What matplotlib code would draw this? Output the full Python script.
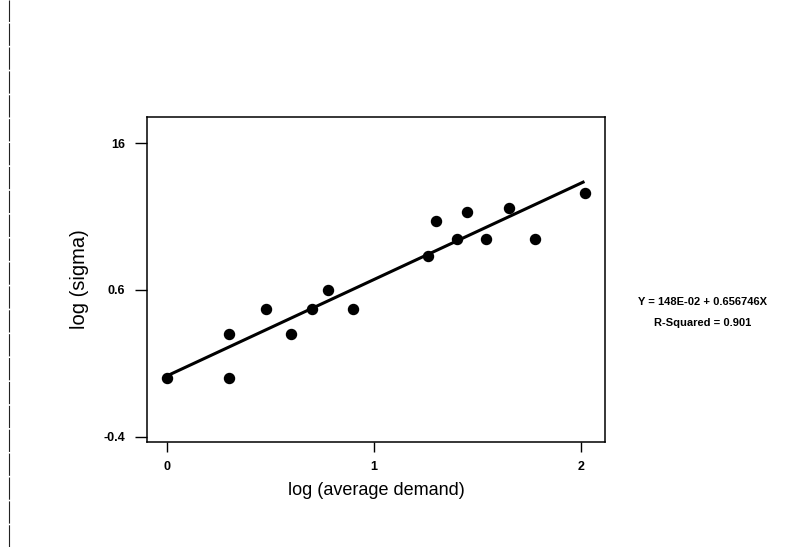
import numpy as np
from matplotlib import pyplot as plt
from matplotlib.lines import Line2D

# Data.
log_demand = [0.0, 0.30, 0.30, 0.48, 0.60, 0.70, 0.78, 0.90,
              1.26, 1.30, 1.40, 1.45, 1.54, 1.65, 1.78, 2.02]
log_sigma = [0.0, 0.30, 0.0, 0.47, 0.30, 0.47, 0.60, 0.47,
             0.83, 1.07, 0.95, 1.13, 0.95, 1.16, 0.95, 1.26]

intercept = 0.0148
slope = 0.656746

y_ticks = [1.6, 0.6, -0.4]
y_tick_labels = ['16', '0.6', '-0.4']
x_ticks = [0, 1, 2]
x_tick_labels = ['0', '1', '2']

plt.rcParams['font.family'] = ['Liberation Sans', 'DejaVu Sans']

fig = plt.figure(dpi=100, figsize=(7.89, 5.47))
ax = fig.add_axes([0.1863, 0.192, 0.5805, 0.5941])

ax.scatter(log_demand, log_sigma, s=52, c='black', zorder=3)
fit_x = np.array([0.0, 2.01])
ax.plot(fit_x, intercept + slope * fit_x, c='black', lw=2.2)

ax.set_xlim(-0.097, 2.116)
ax.set_ylim(-0.436, 1.779)
ax.set_xticks(x_ticks)
ax.set_xticklabels(x_tick_labels, fontsize=9, fontweight='bold')
ax.set_yticks(y_ticks)
ax.set_yticklabels(y_tick_labels, fontsize=9, fontweight='bold')
ax.tick_params(axis='y', direction='out', length=9, width=1, pad=7)
ax.tick_params(axis='x', direction='out', length=7, width=1, pad=7)
for spine in ax.spines.values():
    spine.set_linewidth(1.1)

ax.set_xlabel('log (average demand)', fontsize=13, labelpad=6)
ax.set_ylabel('log (sigma)', fontsize=14.5, labelpad=10)

fig.text(0.891, 0.448, 'Y = 148E-02 + 0.656746X', fontsize=8,
         fontweight='bold', ha='center', va='center')
fig.text(0.890, 0.409, 'R-Squared = 0.901', fontsize=8,
         fontweight='bold', ha='center', va='center')

# Scan edge on the left.
fig.add_artist(Line2D([0.011, 0.011], [0.0, 1.0], color='#222222', lw=0.8,
                      ls=(0, (20, 1.5)), transform=fig.transFigure))

plt.savefig('out.png')
